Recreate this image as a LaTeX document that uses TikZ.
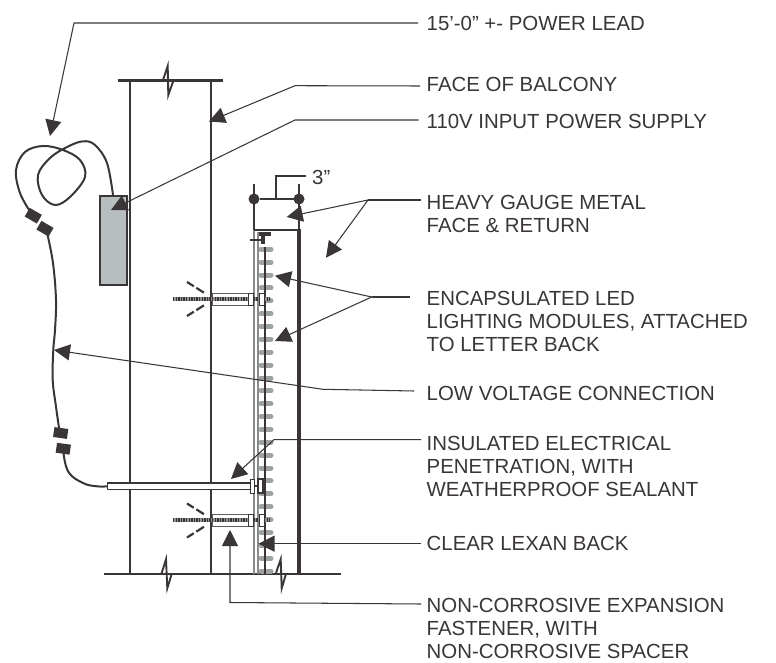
\documentclass[tikz,border=0pt]{standalone}
\usepackage{fontspec}
\setmainfont{Liberation Sans}
\usetikzlibrary{arrows.meta}
\definecolor{ink}{HTML}{3A3638}
\definecolor{pill}{HTML}{9DA2A2}
\definecolor{boxgrey}{HTML}{B8BDBF}
\definecolor{backline}{HTML}{8A8A8A}
\tikzset{
  x=1pt,y=-1pt,
  lbl/.style={anchor=base west,inner sep=0pt,text=ink,align=left,font=\fontsize{20.4}{23}\selectfont},
  lead/.style={draw=ink,line width=1.05pt,line join=miter},
  tip/.style={-{Triangle[length=16pt,width=16pt]},ink},
  wall/.style={draw=ink,line width=1.1pt},
  heavy/.style={draw=ink,line width=2.4pt},
  zig/.style={draw=ink,line width=1.9pt,line join=miter},
  cable/.style={draw=ink,line width=2pt,line cap=round},
  plug/.style={fill=ink,minimum width=14pt,minimum height=10pt,inner sep=0pt,outer sep=0pt},
  dimdot/.style={circle,fill=ink,minimum size=11pt,inner sep=0pt,outer sep=0pt},
  psu/.style={draw=ink,fill=boxgrey,line width=2pt,minimum width=27pt,minimum height=89pt,inner sep=0pt,outer sep=0pt},
  ledpill/.style={draw=pill,line width=5pt,line cap=round},
  part/.style={draw=ink,fill=white,line width=0.9pt},
  rodbase/.style={draw=ink!55,line width=3.6pt},
  rodtick/.style={draw=ink,line width=3.6pt,dash pattern=on 1.4pt off 1.2pt},
  sprayd/.style={draw=ink,line width=2.2pt,dash pattern=on 8pt off 3pt on 9pt}
}
\begin{document}
\begin{tikzpicture}
\useasboundingbox (0,0) rectangle (776,663);
\fill[white] (0,0) rectangle (776,663);

% labels
\node[lbl] (tlead) at (426.5,31) {15’-0” +- POWER LEAD};
\node[lbl] (tface) at (426.5,92) {FACE OF BALCONY};
\node[lbl] (tinput) at (426.5,129) {110V INPUT POWER SUPPLY};
\node[lbl] (tdim) at (312,185) {3”};
\node[lbl] (tmetal) at (426.5,232) {HEAVY GAUGE METAL\\FACE \& RETURN};
\node[lbl] (tled) at (426.5,351) {ENCAPSULATED LED\\LIGHTING MODULES, ATTACHED\\TO LETTER BACK};
\node[lbl] (tlow) at (426.5,400.7) {LOW VOLTAGE CONNECTION};
\node[lbl] (tins) at (426.5,496.7) {INSULATED ELECTRICAL\\PENETRATION, WITH\\WEATHERPROOF SEALANT};
\node[lbl] (tclear) at (426.5,550.7) {CLEAR LEXAN BACK};
\node[lbl] (tfast) at (426.5,658.7) {NON-CORROSIVE EXPANSION\\FASTENER, WITH\\NON-CORROSIVE SPACER};

% balcony
\coordinate (wl) at (130,80.5);
\coordinate (wr) at (211,80.5);
\draw[wall] (wl) -- (130,574);
\draw[wall] (wr) -- (211,574);
\draw[heavy] (117.5,80.5) -- (222.5,80.5);
\draw[heavy] (104,574) -- (341,574);
\draw[zig] (162.7,81) -- (167.7,66) -- (168.3,95) -- (173.3,81);
\draw[zig] (161.7,573) -- (166,559.3) -- (167.3,588.3) -- (171.7,574);
\draw[zig] (276,573) -- (280.7,559.3) -- (281.7,588.3) -- (286,574);

% letter: LED modules
\foreach \i in {0,...,25}{
  \draw[ledpill] (261,249.3+12.87*\i) -- (271,249.3+12.87*\i);
}
\draw[draw=backline,line width=1.2pt] (254,230) -- (254,574);
\draw[draw=backline,line width=1.1pt] (258,232) -- (258,574);
\draw[wall] (265,247) -- (265,574);
% letter: face and return
\draw[draw=ink,line width=3.6pt] (299,574) -- (299,230);
\draw[draw=ink,line width=2.8pt] (254,230) -- (300.8,230);
\draw[wall] (254,184) -- (254,230);
\draw[wall] (299,184) -- (299,230);
% clip angle
\draw[draw=ink,line width=1.2pt] (250,240) -- (265,240);
\draw[draw=ink,line width=3.6pt] (259,234) -- (271,234);
\draw[draw=ink,line width=4.2pt] (262.7,234) -- (262.7,244);

% dimension
\node[dimdot] (da) at (254,199) {};
\node[dimdot] (db) at (299,199) {};
\draw[wall] (da) -- (db);
\coordinate (dc) at (276,199);
\draw[wall] (dc) -- (276,176) -- (306,176);

% fastener, upper and lower
\foreach \y/\r in {299/298.7,520.5/520}{
  \draw[part,draw=ink!80] (212,\y-6) rectangle (248,\y+6);
  \draw[rodbase] (173,\r) -- (270,\r);
  \draw[rodtick] (173,\r) -- (270,\r);
  \draw[part] (248,\y-6) rectangle (253,\y+6);
  \draw[part] (259,\y-6) rectangle (264,\y+6);
  \draw[sprayd] (187,\y-17) -- (204.5,\y-6);
  \draw[sprayd] (187,\y+17) -- (204.5,\y+6);
}

% conduit
\draw[part] (107,483) rectangle (250,489);
\draw[draw=ink,line width=1.7pt] (107,483) -- (250,483);
\draw[wall] (254,486) -- (258,486);
\draw[part] (250,479) rectangle (254,493);
\draw[part,line width=1.2pt] (258,479) rectangle (263,493);
\coordinate (condl) at (107,486);

% supply and cable
\node[psu] (box) at (113.5,240.5) {};
\node[plug,rotate=-30] (p1) at (33.3,215.7) {};
\node[plug,rotate=-30] (p2) at (45,228.7) {};
\node[plug,rotate=-8] (p3) at (60.7,433) {};
\node[plug,rotate=-8] (p4) at (63.3,448.7) {};
\draw[cable] plot[smooth,tension=0.6] coordinates {(113,195) (107,163) (95,145) (83,141.3) (67,147) (50,158) (38,175) (42,195) (55,205) (70,197) (85,177) (80,160) (63,150) (43,146) (25,152) (16,170) (20,193) (31,213)};
\draw[cable] plot[smooth,tension=0.6] coordinates {(46.7,231) (53,263) (56,300) (55,330) (53.3,350) (52.7,380) (56,406.7) (59.3,430)};
\draw[cable] plot[smooth,tension=0.7] coordinates {(63.3,451) (68.3,471.7) (83,483) (97,486.3) (107,486.3)};

% leaders
\coordinate (c1) at (74,23);
\draw[lead,tip] (418,23) -- (c1) -- (50,136);
\draw[lead,tip] (420,86) -- (295,85.7) -- (209,121.5);
\draw[lead,tip] (418.7,120) -- (295,120) -- (111,210);
\coordinate (jm) at (368,200);
\draw[lead] (421,200) -- (jm);
\draw[lead,tip] (jm) -- (286.7,217);
\draw[lead,tip] (jm) -- (326,257.7);
\coordinate (jl) at (371.7,297);
\draw[lead] (410,297) -- (jl);
\draw[lead,tip] (jl) -- (275,275.7);
\draw[lead,tip] (jl) -- (275,341);
\draw[lead,tip] (414,391) -- (323,389.3) -- (54,350);
\draw[lead,tip] (421,439.7) -- (274,439.7) -- (231,479);
\draw[lead,tip] (421,543.7) -- (258.5,543.7);
\draw[lead,tip] (421,604) -- (230,602.5) -- (230,530);
\end{tikzpicture}
\end{document}
